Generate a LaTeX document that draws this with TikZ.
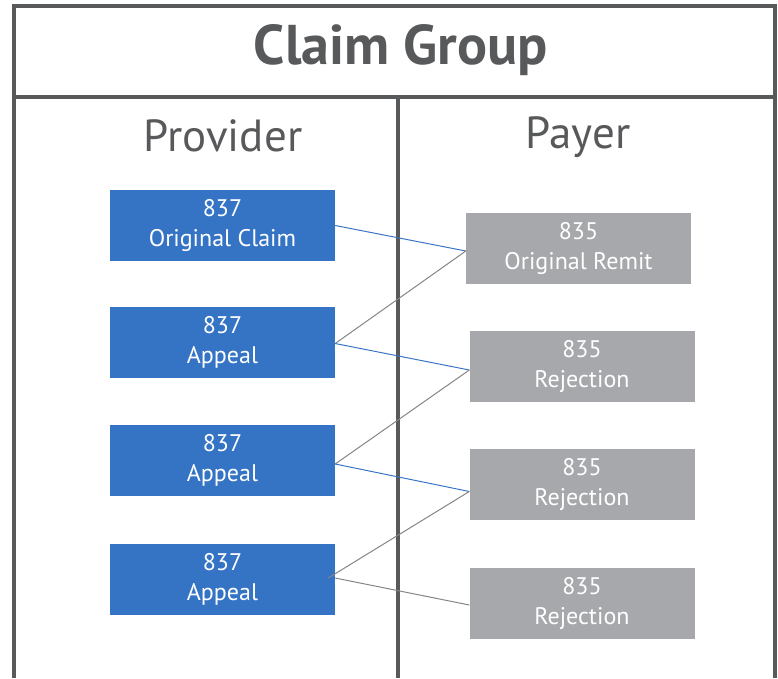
\documentclass[tikz,border=0pt]{standalone}
\usepackage{fontspec}
\setmainfont{PT Sans}
\usetikzlibrary{calc}
\definecolor{framegray}{HTML}{58595B}
\definecolor{boxblue}{HTML}{3574C5}
\definecolor{boxgray}{HTML}{A7A8AB}
\definecolor{lineblue}{HTML}{3A74C4}
\definecolor{linegray}{HTML}{858585}
\begin{document}
\begin{tikzpicture}[x=1pt,y=-1pt,
  frameline/.style={draw=framegray,line width=4pt},
  bluebox/.style={fill=boxblue,text=white,minimum width=225pt,minimum height=71pt,inner sep=0pt,align=center,font=\fontsize{24}{30}\selectfont},
  graybox/.style={bluebox,fill=boxgray},
  blink/.style={draw=lineblue,line width=1pt},
  glink/.style={draw=linegray,line width=1pt},
  header/.style={text=framegray,font=\fontsize{45}{50}\selectfont,inner sep=0pt}
]
\useasboundingbox (0,0) rectangle (778,678);
% frame
\draw[frameline] (14,678) -- (14,6) -- (775,6) -- (775,678);
\draw[frameline] (14,97) -- (775,97);
\draw[frameline] (398,97) -- (398,678);
% headings
\node[header,font=\fontsize{56}{60}\selectfont\bfseries] (title) at (401,50) {Claim Group};
\node[header] (prov) at (223,136) {Provider};
\node[header] (pay) at (578,137) {Payer};
% boxes
\node[bluebox] (b1) at (222.5,225.5) {837\\Original Claim};
\node[bluebox] (b2) at (222.5,342.5) {837\\Appeal};
\node[bluebox] (b3) at (222.5,460) {837\\Appeal};
\node[bluebox] (b4) at (222.5,579) {837\\Appeal};
\node[graybox] (g1) at (578.5,248) {835\\Original Remit};
\node[graybox] (g2) at (582,366) {835\\Rejection};
\node[graybox] (g3) at (582,484.5) {835\\Rejection};
\node[graybox] (g4) at (582,603) {835\\Rejection};
% connection points
\coordinate (b1e) at ($(b1.east)+(0,0)$);
\coordinate (b2e) at ($(b2.east)+(0,1)$);
\coordinate (b3e) at ($(b3.east)+(0,4)$);
\coordinate (b4e) at ($(b4.east)+(0,-1)$);
\coordinate (b4i) at ($(b4.east)+(-7,-1)$);
\coordinate (g1w) at ($(g1.west)+(0,3)$);
\coordinate (g2w) at ($(g2.west)+(0,4)$);
\coordinate (g3w) at ($(g3.west)+(0,7)$);
\coordinate (g4w) at ($(g4.west)+(0,2)$);
% connectors
\draw[blink] (b1e) -- (g1w);
\draw[glink] (g1w) -- (b2e);
\draw[blink] (b2e) -- (g2w);
\draw[glink] (g2w) -- (b3e);
\draw[blink] (b3e) -- (g3w);
\draw[glink] (g3w) -- (b4i);
\draw[glink] (b4e) -- (g4w);
\end{tikzpicture}
\end{document}
